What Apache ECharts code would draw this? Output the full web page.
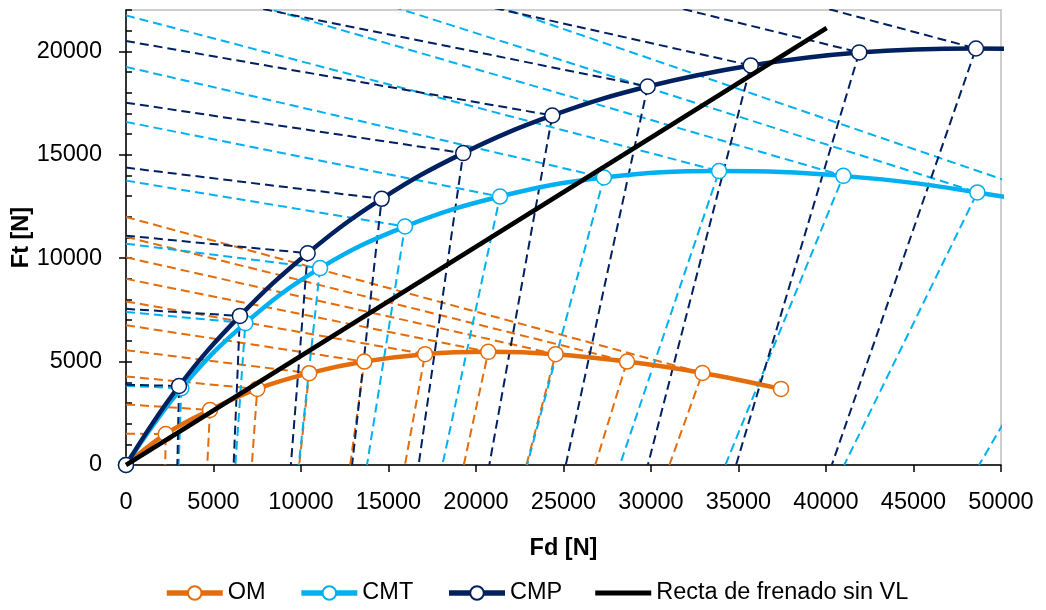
<!DOCTYPE html>
<html><head><meta charset="utf-8">
<script src="https://cdn.jsdelivr.net/npm/echarts@6/dist/echarts.min.js"></script>
<style>html,body{margin:0;padding:0;background:#fff}#c{width:1046px;height:610px}</style>
</head><body><div id="c"></div>
<script>
// ---- data ----
const xTickValues = [0, 5000, 10000, 15000, 20000, 25000, 30000, 35000, 40000, 45000, 50000];
const yTickValues = [0, 5000, 10000, 15000, 20000];

// Ideal distribution curves (Fd, Ft) — points beyond 50000 are estimated (clipped)
const omFd  = [0, 2270, 4800, 7500, 10470, 13620, 17090, 20700, 24550, 28630, 32940, 37430];
const omFt  = [0, 1500, 2660, 3680, 4440, 5000, 5360, 5470, 5360, 5000, 4450, 3680];
const cmtFd = [0, 3165, 6820, 11090, 15940, 21370, 27310, 33890, 40990, 48650, 56910, 65690];
const cmtFt = [0, 3710, 6860, 9520, 11530, 12980, 13900, 14210, 13980, 13180, 11830, 9930];
const cmpFd = [0, 3030, 6510, 10380, 14610, 19270, 24360, 29810, 35700, 41900, 48570, 55640];
const cmpFt = [0, 3820, 7210, 10240, 12870, 15080, 16900, 18300, 19320, 19950, 20140, 19950];

// Dashed lock lines: start on Ft axis (rear) and on Fd axis (front), ending at curve points 1..10
const omRearFt0   = [1510, 2930, 4280, 5550, 6760, 7910, 9000, 10040, 11030, 11990];
const omFrontFd0  = [2240, 4645, 7190, 9900, 12810, 15940, 19300, 22880, 26810, 31050];
const cmtRearFt0  = [3830, 7400, 10700, 13750, 16590, 19250, 21740, 24060, 26260, 28330];
const cmtFrontFd0 = [3005, 6250, 9870, 13770, 18080, 22920, 28220, 34250, 41040, 48745];
const cmpRearFt0  = [3880, 7550, 11090, 14380, 17520, 20500, 23380, 26080, 28670, 31130];
const cmpFrontFd0 = [2935, 6150, 9420, 12920, 16720, 20760, 25130, 29820, 34860, 40330];

// Braking line without load valve
const rectaFd = [0, 40040];
const rectaFt = [0, 21130];

const names = ['OM', 'CMT', 'CMP', 'Recta de frenado sin VL'];
const colors = {OM: '#E46C0A', CMT: '#00B0F0', CMP: '#002060', R: '#000000'};
// ---------------------------------------

const FONT = '"Liberation Sans", Arial, sans-serif';
function pts(xs, ys) { return xs.map((x, i) => [x, ys[i]]); }
const plain = v => String(v);

const series = [];
function addDashed(fd, ft, rear, front, color) {
  for (let i = 0; i < rear.length; i++) {
    series.push({
      type: 'line', silent: true, symbol: 'none', z: 1,
      data: [[0, rear[i]], [fd[i + 1], ft[i + 1]], [front[i], 0]],
      lineStyle: {color: color, width: 2, type: [9, 5]},
      animation: false
    });
  }
}
addDashed(omFd, omFt, omRearFt0, omFrontFd0, colors.OM);
addDashed(cmtFd, cmtFt, cmtRearFt0, cmtFrontFd0, colors.CMT);
addDashed(cmpFd, cmpFt, cmpRearFt0, cmpFrontFd0, colors.CMP);

function curve(name, xs, ys, color) {
  return {
    name: name, type: 'line', data: pts(xs, ys), smooth: 0.4,
    symbol: 'circle', symbolSize: 15, showAllSymbol: true, z: 3,
    lineStyle: {color: color, width: 4.5},
    itemStyle: {color: '#ffffff', borderColor: color, borderWidth: 1.5}
  };
}
series.push(curve(names[0], omFd, omFt, colors.OM));
series.push(curve(names[1], cmtFd, cmtFt, colors.CMT));
series.push(curve(names[2], cmpFd, cmpFt, colors.CMP));
series.push({
  name: names[3], type: 'line', data: pts(rectaFd, rectaFt), symbol: 'none', z: 4,
  lineStyle: {color: colors.R, width: 4.5}, itemStyle: {color: colors.R}
});

const chart = echarts.init(document.getElementById('c'), null, {renderer: 'canvas'});
chart.setOption({
  animation: false,
  backgroundColor: '#ffffff',
  textStyle: {fontFamily: FONT},
  grid: {left: 126, right: 45, top: 10, bottom: 145, containLabel: false, outerBoundsMode: 'none',
         show: true, borderColor: '#BFBFBF', borderWidth: 1.5, backgroundColor: 'transparent'},
  xAxis: {
    type: 'value', min: 0, max: 50000, interval: 5000,
    name: 'Fd [N]', nameLocation: 'middle', nameGap: 72, nameMoveOverlap: false,
    nameTextStyle: {fontFamily: FONT, fontWeight: 'bold', fontSize: 23.5, color: '#000'},
    axisLine: {show: true, onZero: false, lineStyle: {color: '#000', width: 1.5}},
    axisTick: {show: true, length: 7, lineStyle: {color: '#000', width: 1.5}, customValues: xTickValues},
    axisLabel: {margin: 26, fontFamily: FONT, fontSize: 23.5, color: '#000', customValues: xTickValues, formatter: plain},
    splitLine: {show: false}
  },
  yAxis: [{
    type: 'value', min: 0, max: 22000, interval: 5000,
    name: 'Ft [N]', nameLocation: 'middle', nameGap: 92, nameMoveOverlap: false,
    nameTextStyle: {fontFamily: FONT, fontWeight: 'bold', fontSize: 23.5, color: '#000'},
    axisLine: {show: true, onZero: false, lineStyle: {color: '#000', width: 1.5}},
    axisTick: {show: true, length: 7, lineStyle: {color: '#000', width: 1.5}, customValues: yTickValues},
    axisLabel: {margin: 24, fontFamily: FONT, fontSize: 23.5, color: '#000', customValues: yTickValues, formatter: plain},
    splitLine: {show: false}
  }, {
    type: 'value', min: 0, max: 22000, interval: 1000, position: 'left',
    axisLine: {show: false},
    axisTick: {show: true, inside: true, length: 6, lineStyle: {color: '#000', width: 1.5}},
    axisLabel: {show: false},
    splitLine: {show: false}
  }],
  legend: {
    data: [{name: names[0]}, {name: names[1]}, {name: names[2]},
           {name: names[3], icon: 'path://M0,0H56V5H0Z'}],
    left: 164, top: 581, padding: 0, itemWidth: 56, itemHeight: 17, itemGap: 33,
    selectedMode: false,
    textStyle: {fontFamily: FONT, fontSize: 23.5, color: '#000'},
    lineStyle: {width: 5.5},
    itemStyle: {borderWidth: 2}
  },
  series: series
});
</script></body></html>
